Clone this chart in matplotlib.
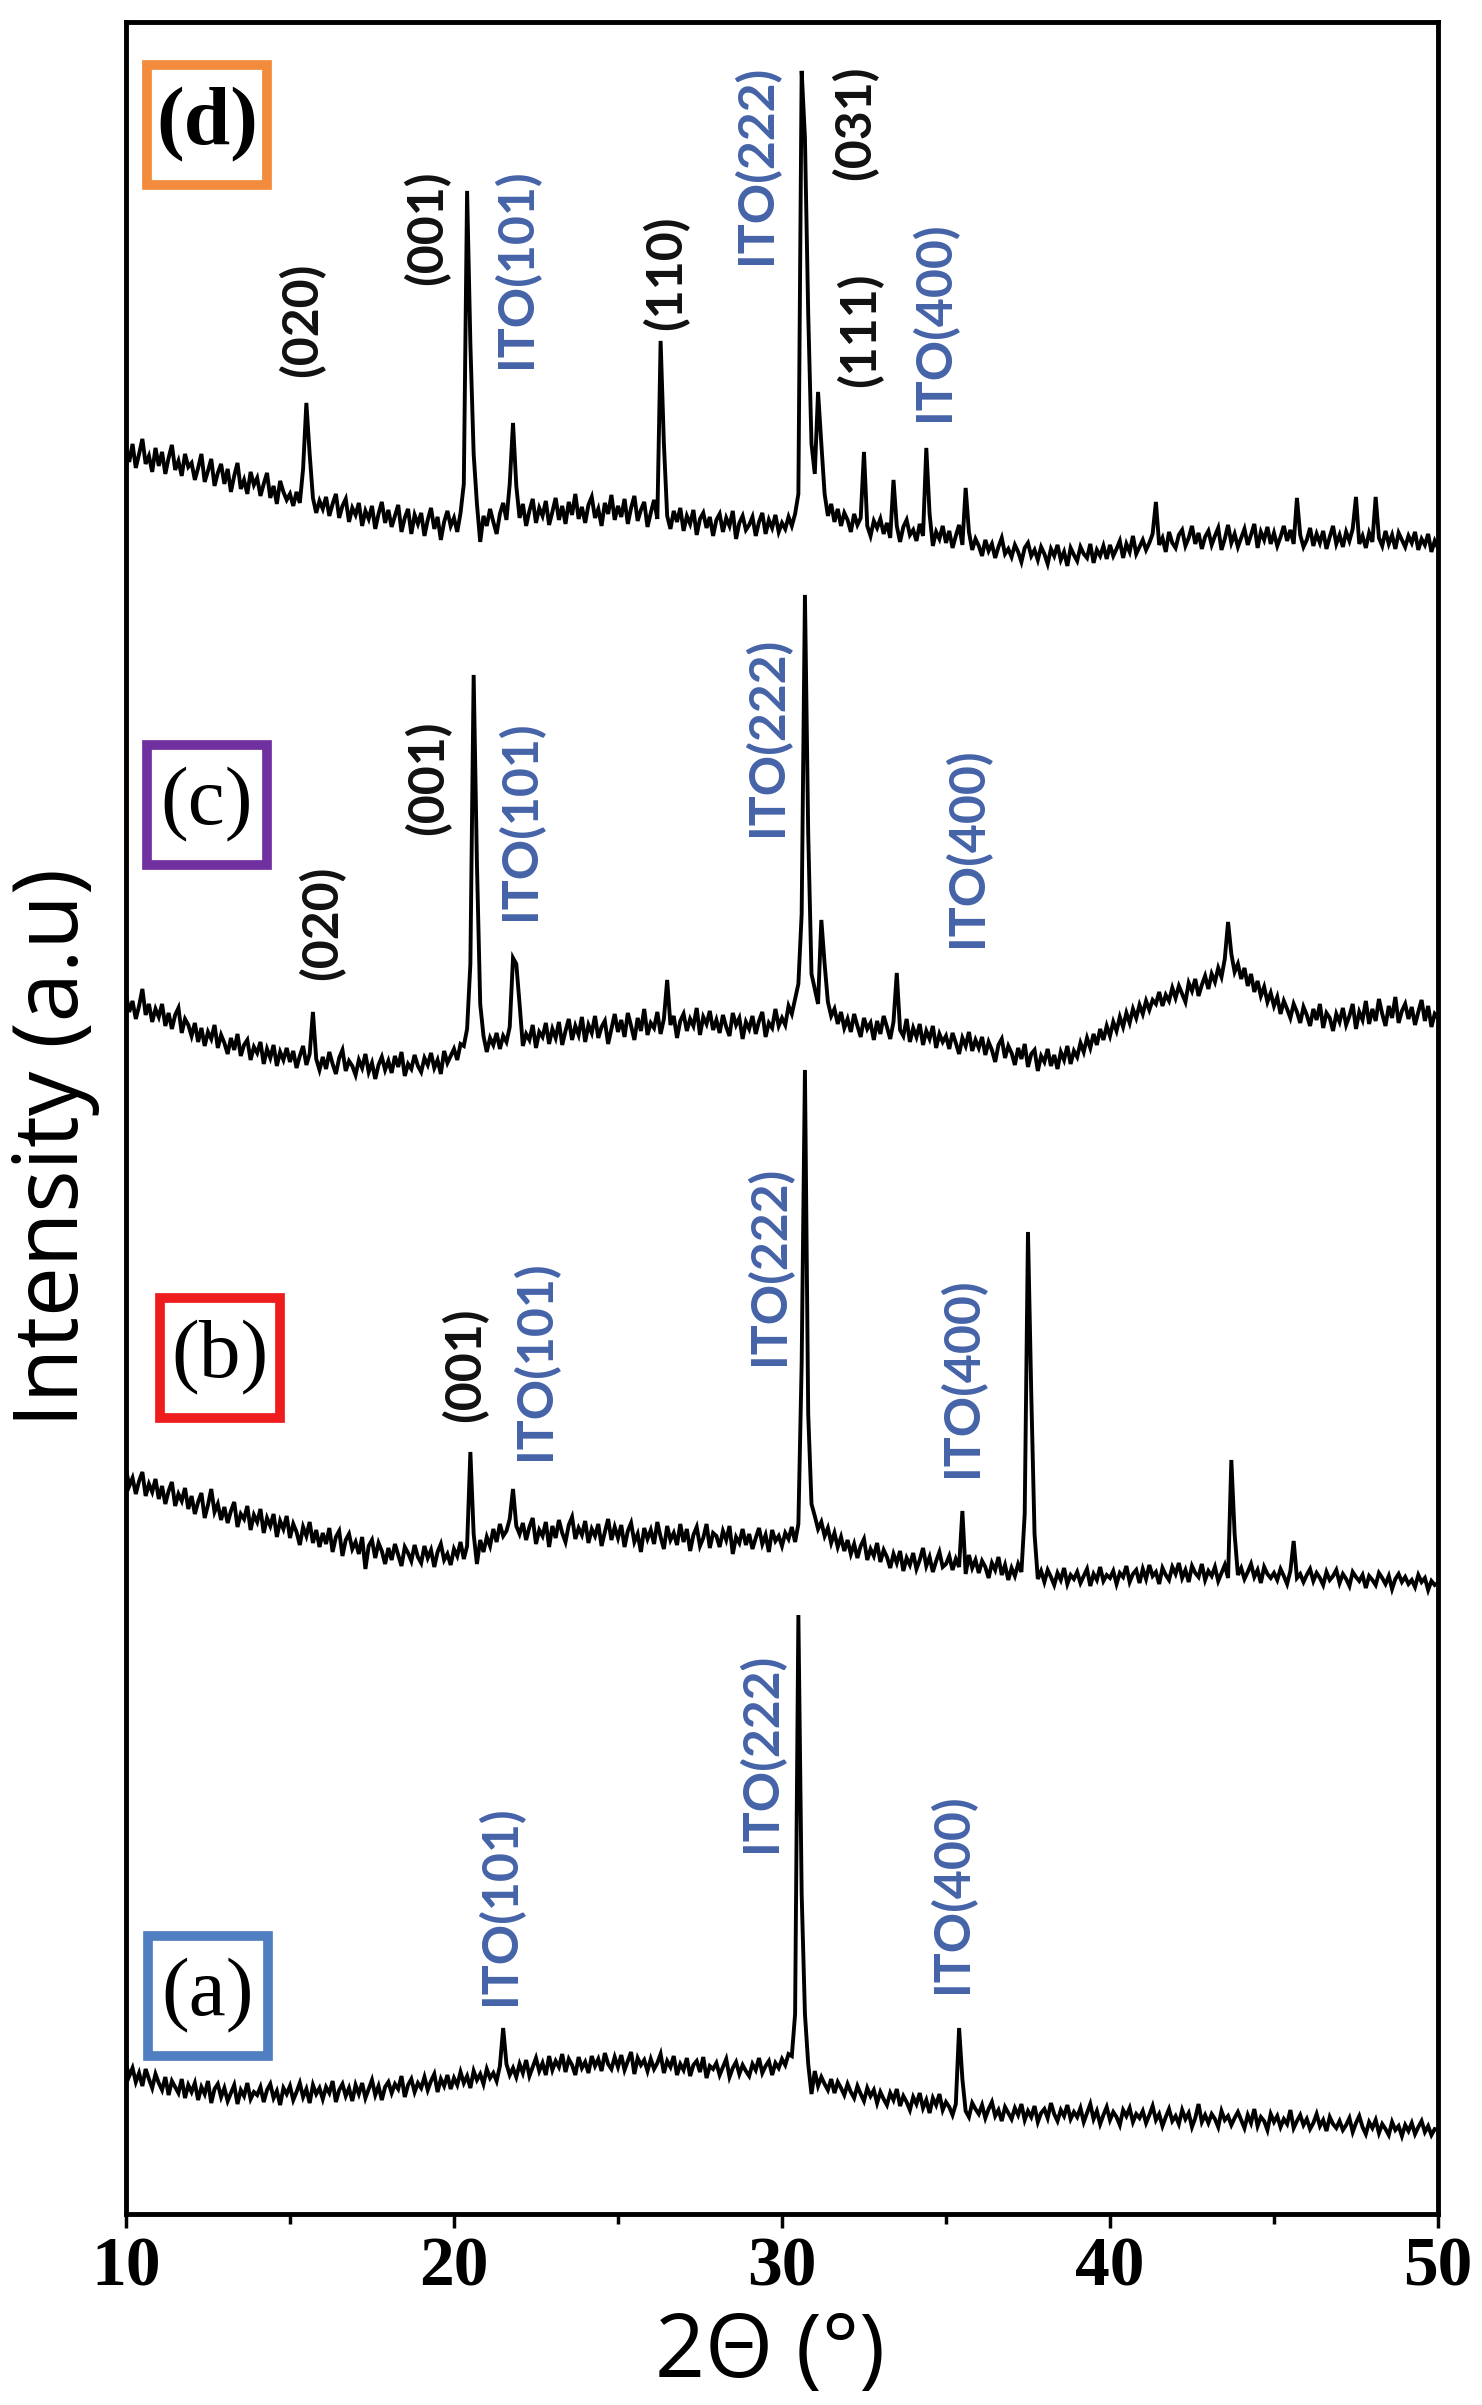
import numpy as np
import matplotlib.pyplot as plt
from matplotlib.ticker import MultipleLocator
from matplotlib.transforms import ScaledTranslation

# 2-theta grid, 0.1 deg step
two_theta = np.round(np.arange(100, 501) * 0.1, 1)

# intensities (a.u.), one row per degree
int_a = [
    150, 138, 146, 132, 141, 128, 145, 135, 126, 140,
    131, 124, 137, 119, 133, 127, 121, 135, 116, 129,
    122, 131, 114, 127, 120, 133, 111, 125, 130, 117,
    126, 113, 121, 129, 110, 124, 118, 131, 115, 122,
    119, 127, 112, 124, 130, 116, 123, 109, 126, 120,
    128, 114, 122, 131, 117, 125, 111, 129, 120, 126,
    115, 127, 121, 133, 112, 124, 130, 118, 126, 113,
    129, 120, 131, 116, 125, 134, 119, 128, 114, 127,
    132, 121, 130, 125, 138, 117, 129, 135, 122, 131,
    126, 137, 124, 133, 140, 122, 135, 128, 139, 125,
    136, 129, 142, 131, 138, 126, 143, 134, 140, 130,
    145, 136, 141, 133, 148, 186, 150, 139, 146, 137,
    150, 141, 154, 138, 147, 156, 143, 151, 139, 158,
    144, 153, 147, 160, 142, 155, 149, 139, 157, 146,
    152, 141, 158, 148, 155, 143, 161, 150, 145, 157,
    147, 159, 144, 153, 162, 140, 156, 149, 154, 143,
    155, 145, 151, 160, 141, 153, 147, 158, 139, 150,
    144, 156, 138, 149, 153, 142, 157, 136, 148, 145,
    151, 139, 147, 155, 137, 146, 152, 140, 149, 143,
    138, 150, 144, 156, 141, 148, 153, 139, 151, 146,
    155, 149, 160, 158, 200, 599, 320, 200, 150, 120,
    143, 128, 137, 130, 124, 135, 121, 132, 126, 119,
    130, 122, 116, 128, 120, 113, 126, 118, 124, 111,
    122, 115, 109, 121, 114, 125, 108, 118, 112, 104,
    117, 110, 121, 106, 114, 101, 116, 109, 120, 104,
    112, 107, 99, 110, 186, 135, 103, 97, 111, 105,
    100, 109, 96, 105, 112, 98, 104, 93, 107, 101,
    95, 106, 99, 110, 94, 103, 97, 108, 92, 101,
    105, 96, 111, 100, 93, 104, 98, 109, 95, 102,
    97, 106, 92, 101, 110, 95, 103, 90, 99, 107,
    94, 102, 97, 89, 104, 98, 106, 92, 100, 96,
    103, 91, 99, 108, 94, 100, 88, 97, 105, 93,
    98, 90, 104, 95, 101, 87, 96, 110, 92, 99,
    91, 100, 95, 87, 103, 94, 98, 89, 96, 102,
    94, 86, 99, 91, 105, 88, 97, 93, 84, 100,
    92, 98, 87, 95, 90, 104, 86, 93, 99, 89,
    95, 85, 91, 100, 88, 94, 83, 97, 90, 86,
    93, 84, 89, 96, 82, 91, 98, 87, 80, 92,
    86, 94, 81, 90, 85, 79, 92, 84, 88, 78,
    89, 83, 91, 80, 87, 93, 82, 88, 79, 85,
    84,
]

int_b = [
    195, 178, 186, 170, 183, 192, 168, 180, 172, 185,
    165, 178, 160, 173, 182, 158, 170, 163, 176, 155,
    168, 150, 162, 171, 146, 159, 175, 152, 160, 144,
    157, 141, 153, 162, 137, 150, 145, 158, 134, 149,
    142, 155, 131, 146, 138, 150, 127, 143, 135, 148,
    126, 140, 132, 119, 137, 128, 142, 121, 134, 117,
    131, 120, 136, 112, 127, 133, 108, 124, 130, 115,
    122, 110, 127, 95, 118, 124, 106, 121, 113, 100,
    116, 104, 120, 109, 98, 117, 111, 103, 119, 107,
    101, 118, 106, 114, 97, 112, 120, 104, 110, 99,
    115, 108, 122, 105, 118, 212, 130, 100, 124, 112,
    127, 118, 135, 122, 140, 128, 133, 145, 175, 138,
    130, 141, 124, 137, 146, 120, 134, 128, 142, 117,
    138, 126, 144, 131, 122, 139, 147, 125, 136, 129,
    143, 121, 135, 128, 140, 118, 132, 145, 124, 137,
    126, 139, 117, 133, 141, 122, 130, 112, 136, 125,
    134, 120, 142, 127, 115, 138, 124, 131, 119, 140,
    122, 135, 113, 129, 137, 118, 126, 140, 116, 131,
    128, 117, 133, 124, 138, 110, 127, 121, 135, 119,
    130, 115, 126, 136, 120, 129, 112, 134, 123, 128,
    118, 131, 125, 137, 122, 140, 300, 594, 250, 160,
    148, 135, 142, 128, 136, 121, 131, 117, 127, 113,
    124, 110, 120, 106, 118, 125, 104, 115, 108, 121,
    102, 114, 107, 96, 110, 101, 113, 93, 106, 99,
    111, 95, 104, 116, 98, 107, 92, 103, 112, 97,
    100, 108, 94, 105, 97, 153, 90, 109, 96, 104,
    91, 103, 97, 86, 101, 94, 107, 89, 99, 84,
    96, 88, 100, 92, 150, 432, 270, 130, 85, 93,
    82, 94, 87, 79, 91, 84, 96, 80, 89, 85,
    92, 81, 88, 95, 78, 90, 84, 97, 83, 89,
    86, 93, 80, 91, 87, 98, 82, 90, 94, 81,
    95, 85, 99, 88, 92, 80, 96, 89, 84, 97,
    90, 101, 86, 94, 82, 98, 91, 87, 100, 84,
    93, 88, 97, 83, 91, 99, 86, 204, 130, 89,
    96, 85, 92, 100, 87, 94, 81, 97, 90, 86,
    91, 84, 95, 88, 80, 93, 123, 86, 90, 82,
    89, 95, 83, 91, 86, 79, 92, 84, 88, 94,
    81, 90, 85, 78, 92, 87, 83, 89, 76, 88,
    84, 79, 91, 86, 80, 88, 75, 85, 90, 82,
    87, 80, 84, 77, 89, 82, 86, 74, 83, 79,
    81,
]

int_c = [
    170, 152, 163, 145, 158, 175, 149, 160, 142, 155,
    147, 160, 138, 151, 135, 149, 156, 131, 145, 139,
    128, 141, 122, 136, 118, 132, 125, 139, 116, 129,
    121, 110, 126, 114, 130, 108, 119, 124, 104, 117,
    111, 122, 100, 115, 106, 119, 98, 112, 104, 116,
    102, 113, 96, 108, 118, 99, 110, 152, 105, 94,
    107, 95, 112, 100, 90, 106, 114, 93, 103, 98,
    89, 104, 96, 110, 92, 101, 85, 99, 107, 94,
    103, 91, 108, 97, 112, 88, 100, 95, 109, 98,
    92, 106, 99, 111, 96, 104, 90, 113, 101, 108,
    115, 104, 120, 118, 135, 200, 489, 300, 160, 128,
    112, 126, 119, 131, 115, 128, 122, 137, 206, 200,
    160, 118, 130, 124, 139, 116, 132, 127, 141, 120,
    135, 126, 142, 119, 133, 145, 124, 138, 129, 147,
    122, 139, 131, 148, 126, 137, 143, 120, 135, 150,
    132, 144, 127, 151, 138, 124, 146, 133, 155, 129,
    141, 136, 152, 130, 145, 184, 139, 148, 126, 143,
    150, 133, 145, 138, 156, 129, 147, 140, 153, 134,
    144, 131, 149, 137, 128, 151, 139, 146, 125, 142,
    135, 148, 130, 143, 152, 127, 141, 136, 155, 138,
    146, 139, 158, 150, 165, 180, 250, 569, 330, 190,
    175, 160, 244, 200, 162, 148, 155, 140, 152, 136,
    145, 132, 150, 138, 127, 146, 135, 141, 124, 143,
    130, 148, 137, 125, 142, 191, 134, 128, 145, 122,
    136, 127, 140, 119, 133, 125, 138, 116, 130, 122,
    128, 115, 131, 121, 110, 126, 118, 132, 113, 124,
    116, 127, 109, 122, 114, 102, 119, 125, 106, 118,
    111, 99, 116, 105, 120, 97, 110, 114, 93, 108,
    102, 115, 98, 109, 95, 112, 104, 118, 100, 113,
    107, 121, 112, 126, 116, 130, 119, 135, 124, 138,
    128, 142, 133, 147, 137, 151, 141, 155, 146, 159,
    150, 163, 154, 164, 160, 172, 158, 169, 163, 176,
    166, 178, 170, 162, 181, 173, 185, 168, 179, 188,
    175, 190, 182, 196, 187, 205, 242, 210, 192, 200,
    185, 196, 178, 190, 172, 183, 168, 177, 162, 171,
    158, 167, 150, 163, 155, 146, 160, 152, 141, 157,
    149, 138, 155, 144, 160, 136, 151, 146, 133, 150,
    142, 156, 139, 148, 160, 135, 152, 144, 163, 140,
    155, 143, 165, 150, 138, 158, 146, 167, 141, 153,
    160, 145, 157, 139, 152, 164, 143, 158, 137, 150,
    146,
]

int_d = [
    195, 182, 200, 176, 190, 205, 180, 188, 172, 196,
    178, 192, 170, 186, 199, 174, 183, 168, 190, 177,
    181, 164, 176, 190, 162, 173, 185, 158, 171, 180,
    160, 175, 152, 168, 181, 155, 164, 150, 172, 159,
    166, 148, 160, 171, 146, 158, 140, 163, 152, 144,
    150, 138, 152, 141, 175, 241, 190, 146, 131, 143,
    135, 147, 128, 140, 150, 126, 138, 145, 122, 136,
    129, 141, 118, 133, 125, 138, 115, 130, 142, 121,
    134, 117, 128, 139, 112, 126, 135, 110, 129, 120,
    131, 108, 124, 136, 115, 127, 104, 122, 133, 118,
    126, 112, 131, 160, 453, 300, 190, 140, 102, 128,
    118, 135, 122, 110, 130, 141, 124, 160, 221, 158,
    126, 140, 118, 133, 145, 121, 136, 128, 143, 119,
    132, 146, 124, 138, 120, 142, 129, 150, 125, 137,
    121, 139, 147, 126, 135, 118, 141, 130, 149, 124,
    138, 127, 145, 120, 136, 148, 123, 134, 142, 117,
    131, 144, 125, 303, 200, 128, 115, 133, 122, 136,
    113, 128, 120, 134, 109, 125, 131, 116, 127, 108,
    124, 130, 112, 126, 118, 133, 105, 121, 128, 114,
    119, 127, 108, 122, 131, 110, 124, 116, 129, 112,
    121, 115, 127, 118, 130, 150, 573, 506, 330, 200,
    170, 252, 200, 150, 128, 140, 122, 135, 118, 131,
    124, 112, 130, 119, 126, 192, 118, 108, 123, 116,
    125, 110, 121, 106, 164, 118, 102, 117, 124, 109,
    114, 103, 120, 108, 196, 130, 98, 112, 105, 118,
    101, 113, 96, 108, 119, 99, 156, 112, 94, 105,
    98, 88, 104, 93, 100, 86, 97, 106, 90, 95,
    87, 99, 92, 82, 96, 101, 88, 94, 84, 97,
    90, 80, 95, 88, 99, 84, 92, 78, 96, 89,
    83, 97, 90, 86, 100, 81, 94, 88, 98, 85,
    99, 88, 95, 103, 86, 100, 92, 108, 90, 97,
    104, 94, 101, 110, 142, 99, 106, 92, 112, 101,
    96, 109, 114, 98, 106, 118, 100, 111, 95, 107,
    113, 99, 108, 116, 94, 105, 119, 101, 110, 97,
    106, 115, 99, 109, 120, 96, 112, 104, 117, 100,
    111, 98, 107, 118, 103, 114, 100, 146, 109, 97,
    104, 116, 98, 110, 101, 113, 95, 107, 118, 100,
    109, 97, 112, 103, 115, 147, 100, 108, 96, 111,
    102, 147, 106, 98, 113, 100, 109, 95, 111, 104,
    97, 108, 101, 112, 94, 105, 99, 110, 92, 103,
    96,
]

sample_names = ['(a)', '(b)', '(c)', '(d)']
sample_colors = ['#4F7FC0', '#EE1C1C', '#7030A0', '#F28C3C']
traces = [int_a, int_b, int_c, int_d]
offsets = [0, 550, 1050, 1570]

# peak labels: (text, is_ITO)
labels_a = [('ITO(101)', True), ('ITO(222)', True), ('ITO(400)', True)]
labels_b = [('(001)', False), ('ITO(101)', True), ('ITO(222)', True), ('ITO(400)', True)]
labels_c = [('(020)', False), ('(001)', False), ('ITO(101)', True),
            ('ITO(222)', True), ('ITO(400)', True)]
labels_d = [('(020)', False), ('(001)', False), ('ITO(101)', True), ('(110)', False),
            ('ITO(222)', True), ('(031)', False), ('(111)', False), ('ITO(400)', True)]
# where the label text starts (x in deg, y bottom in a.u.)
pos_a = [(21.4, 209), (29.36, 362), (35.18, 221)]
pos_b = [(20.34, 792), (22.47, 754), (29.6, 849), (35.49, 737)]
pos_c = [(15.98, 1234), (19.21, 1379), (22.01, 1294), (29.54, 1378), (35.64, 1267)]
pos_d = [(15.35, 1837), (19.18, 1929), (21.89, 1846), (26.46, 1884),
         (29.2, 1950), (32.22, 2034), (32.38, 1827), (34.63, 1793)]
box_pos = [(12.5, 218), (12.87, 856), (12.47, 1409), (12.47, 2089)]

ito_color = '#4563A8'

fig = plt.figure(figsize=(14.82, 24.05), dpi=100)
ax = fig.add_axes([0.085, 0.0794, 0.8853, 0.9115])

for vals, off in zip(traces, offsets):
    ax.plot(two_theta, np.array(vals) + off, color='black', lw=2.8,
            solid_joinstyle='miter')

for labs, poss in zip([labels_a, labels_b, labels_c, labels_d],
                      [pos_a, pos_b, pos_c, pos_d]):
    for (txt, ito), (x, y) in zip(labs, poss):
        ax.text(x, y, txt, rotation=90, ha='center', va='bottom',
                fontsize=36, fontweight='bold', family='Lato',
                color=ito_color if ito else '#111111')

# sample tags: square frame + letter
for name, col, (x, y) in zip(sample_names, sample_colors, box_pos):
    ax.plot([x], [y], marker='s', markersize=86, mfc='white', mec=col,
            mew=7, zorder=4)
    ax.text(x, y, name, ha='center', va='center', fontsize=60,
            family='Liberation Serif', zorder=5,
            fontweight='bold' if name == '(d)' else 'normal')

ax.set_xlim(10, 50)
ax.set_ylim(0, 2192)
ax.set_yticks([])
ax.xaxis.set_major_locator(MultipleLocator(10))
ax.xaxis.set_minor_locator(MultipleLocator(5))
ax.tick_params(axis='x', which='major', direction='out', length=10, width=2.5, pad=6)
ax.tick_params(axis='x', which='minor', direction='out', length=7, width=2.5)
ticklabs = ax.get_xticklabels()
for lab in ticklabs:
    lab.set_fontfamily('Liberation Serif')
    lab.set_fontweight('bold')
    lab.set_fontsize(50)
ticklabs[0].set_horizontalalignment('left')
ticklabs[0].set_transform(ticklabs[0].get_transform()
                          + ScaledTranslation(-6 / 100, 0, fig.dpi_scale_trans))
for sp in ax.spines.values():
    sp.set_linewidth(3.5)

fig.text(55 / 1482, 1 - 1147 / 2405, 'Intensity (a.u)', rotation=90,
         ha='center', va='center', fontsize=64, family='Open Sans')
fig.text(770 / 1482, 1 - 2354 / 2405, '2\u0398 (\u00b0)',
         ha='center', va='center', fontsize=63, family='Open Sans')

fig.savefig('out.png', dpi=100)
